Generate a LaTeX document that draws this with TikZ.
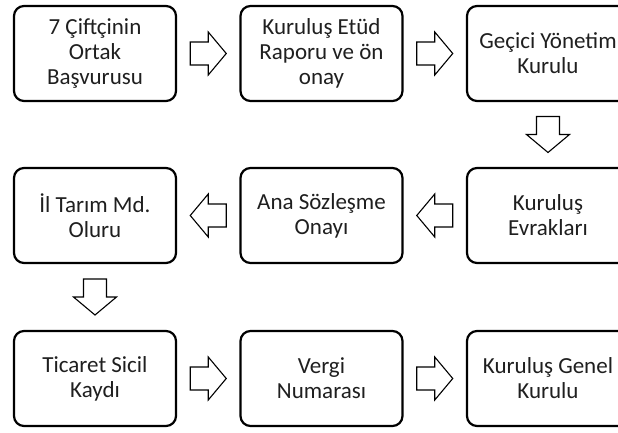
\documentclass[tikz,border=0pt]{standalone}
\usepackage{fontspec}
\setmainfont{Carlito}
\usetikzlibrary{calc}
\tikzset{
  stepbox/.style={draw=black, line width=2.2pt, rounded corners=10pt,
    minimum width=162pt, minimum height=95pt, align=center,
    font=\fontsize{23}{25}\selectfont, inner sep=2pt, fill=white, text=black!88},
  blockarrow/.pic={\draw[line width=1.1pt, fill=white, line join=miter]
    (-18,-11.5) -- (0,-11.5) -- (0,-21.5) -- (18,0) -- (0,21.5) -- (0,11.5) -- (-18,11.5) -- cycle;}
}
\begin{document}
\begin{tikzpicture}[x=1pt,y=1pt]
\path[use as bounding box] (0,0) rectangle (618,432);
\clip (0,0) rectangle (618,432);
% row 1
\node[stepbox] (b1) at (95,378.5) {7 Çiftçinin\\Ortak\\Başvurusu};
\node[stepbox] (b2) at (321.5,378.5) {Kuruluş Etüd\\Raporu ve ön\\onay};
\node[stepbox] (b3) at (548,378.5) {Geçici Yönetim\\Kurulu};
% row 2
\node[stepbox] (b4) at (548,216.5) {Kuruluş\\Evrakları};
\node[stepbox] (b5) at (321.5,216.5) {Ana Sözleşme\\Onayı};
\node[stepbox] (b6) at (95,216.5) {İl Tarım Md.\\Oluru};
% row 3
\node[stepbox] (b7) at (95,53.5) {Ticaret Sicil\\Kaydı};
\node[stepbox] (b8) at (321.5,53.5) {Vergi\\Numarası};
\node[stepbox] (b9) at (548,53.5) {Kuruluş Genel\\Kurulu};
% arrow positions
\coordinate (a1) at ($(b1.east)!0.5!(b2.west)$);
\coordinate (a2) at ($(b2.east)!0.5!(b3.west)$);
\coordinate (a3) at ($(b3.south)!0.5!(b4.north)$);
\coordinate (a4) at ($(b4.west)!0.5!(b5.east)$);
\coordinate (a5) at ($(b5.west)!0.5!(b6.east)$);
\coordinate (a6) at ($(b6.south)!0.5!(b7.north)$);
\coordinate (a7) at ($(b7.east)!0.5!(b8.west)$);
\coordinate (a8) at ($(b8.east)!0.5!(b9.west)$);
\pic at (a1) {blockarrow};
\pic at (a2) {blockarrow};
\pic[rotate=-90] at (a3) {blockarrow};
\pic[rotate=180] at (a4) {blockarrow};
\pic[rotate=180] at (a5) {blockarrow};
\pic[rotate=-90] at (a6) {blockarrow};
\pic at (a7) {blockarrow};
\pic at (a8) {blockarrow};
\end{tikzpicture}
\end{document}
